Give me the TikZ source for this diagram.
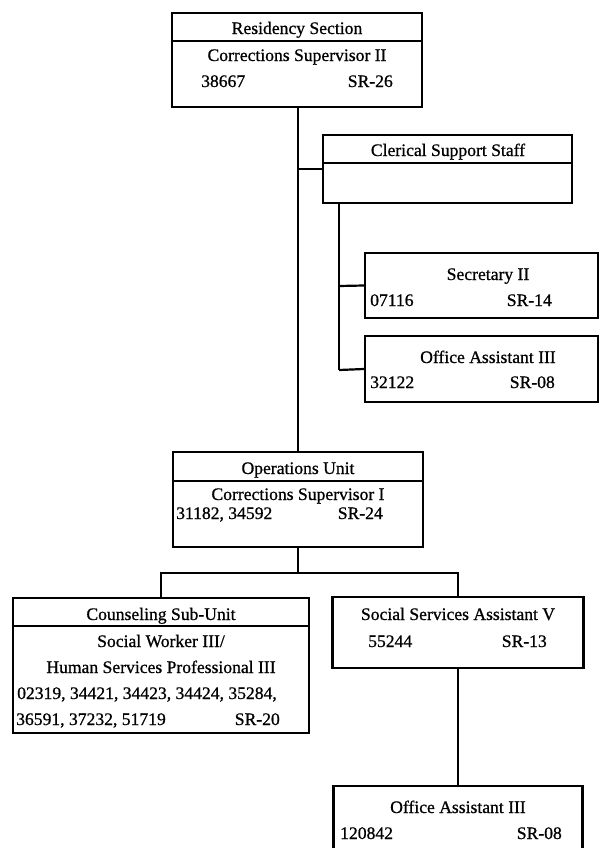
\documentclass[tikz,border=0pt]{standalone}
\usepackage{fontspec}
\setmainfont{Liberation Serif}[BoldFont={Liberation Serif}, BoldFeatures={FakeBold=0.8}]
\tikzset{
  orgbox/.style={draw, line width=2.2bp, inner sep=0pt, fill=white},
  rule/.style={line width=2bp},
  conn/.style={line width=2.2bp},
  lbl/.style={font=\fontsize{17.6bp}{20bp}\selectfont\bfseries, inner sep=0pt, anchor=base},
}
\begin{document}
\begin{tikzpicture}[x=1bp,y=-1bp]
\useasboundingbox (0,0) rectangle (600,848);
\fill[white] (0,0) rectangle (600,848);
\clip (0,0) rectangle (600,848);

% ---- boxes
\node[orgbox, minimum width=250bp, minimum height=94bp] (res) at (297,60) {};
\node[orgbox, minimum width=249bp, minimum height=68bp] (cler) at (447.5,169) {};
\node[orgbox, minimum width=233bp, minimum height=65bp] (sec) at (481.5,285.5) {};
\node[orgbox, minimum width=233bp, minimum height=66bp] (oa) at (481.5,369) {};
\node[orgbox, minimum width=250bp, minimum height=95bp] (ops) at (298,499.5) {};
\node[orgbox, minimum width=296bp, minimum height=135bp] (cns) at (161,665.5) {};
\node[orgbox, minimum width=251bp, minimum height=71bp] (ssa) at (458,632.5) {};
\node[orgbox, minimum width=249bp, minimum height=80bp] (oa2) at (458,826) {};

% ---- header rules
\draw[rule] (res.west |- 0,41) -- (res.east |- 0,41);
\draw[rule] (cler.west |- 0,163) -- (cler.east |- 0,163);
\draw[rule] (ops.west |- 0,481) -- (ops.east |- 0,481);
\draw[rule] (cns.west |- 0,626) -- (cns.east |- 0,626);

% ---- connectors
\coordinate (jA) at (298,169);
\coordinate (jB) at (339,203);
\coordinate (jC) at (339,286);
\coordinate (jD) at (339,370);
\coordinate (jE) at (298,573);
\coordinate (jL) at (161,573);
\coordinate (jR) at (458,573);
\draw[conn] (res.south -| 298,0) -- (ops.north -| 298,0);
\draw[conn] (jA) -- (cler.west);
\draw[conn] (jB) -- (jD);
\draw[conn] (jC) -- (sec.west);
\draw[conn] (jD) -- (oa.west);
\draw[conn] (ops.south -| 298,0) -- (jE);
\draw[conn] (cns.north) -- (jL) -- (jR) -- (ssa.north);
\draw[conn] (ssa.south) -- (oa2.north);

% ---- texts: Residency Section
\node[lbl] (t1) at (297,34) {Residency Section};
\node[lbl] (t2) at (297,61) {Corrections Supervisor II};
\node[lbl, anchor=base west] (t3) at (201,87) {38667};
\node[lbl, anchor=base east] (t4) at (393,87) {SR-26};

% Clerical
\node[lbl] (t5) at (448,156) {Clerical Support Staff};

% Secretary II
\node[lbl] (t6) at (488,280) {Secretary II};
\node[lbl, anchor=base west] (t7) at (370,306) {07116};
\node[lbl, anchor=base east] (t8) at (552,306) {SR-14};

% Office Assistant III (upper)
\node[lbl] (t9) at (488,363) {Office Assistant III};
\node[lbl, anchor=base west] (t10) at (370,388) {32122};
\node[lbl, anchor=base east] (t11) at (555,388) {SR-08};

% Operations Unit
\node[lbl] (t12) at (298,474) {Operations Unit};
\node[lbl] (t13) at (298,500) {Corrections Supervisor I};
\node[lbl, anchor=base west] (t14) at (176,519) {31182, 34592};
\node[lbl, anchor=base east] (t15) at (383,519) {SR-24};

% Counseling Sub-Unit
\node[lbl] (t16) at (161,620) {Counseling Sub-Unit};
\node[lbl] (t17) at (161,647) {Social Worker III/};
\node[lbl] (t18) at (161,673) {Human Services Professional III};
\node[lbl, anchor=base west] (t19) at (17,699) {02319, 34421, 34423, 34424, 35284,};
\node[lbl, anchor=base west] (t20) at (16,725) {36591, 37232, 51719};
\node[lbl, anchor=base east] (t21) at (280,725) {SR-20};

% Social Services Assistant V
\node[lbl] (t22) at (458,620) {Social Services Assistant V};
\node[lbl, anchor=base west] (t23) at (368,647) {55244};
\node[lbl, anchor=base east] (t24) at (547,647) {SR-13};

% Office Assistant III (lower)
\node[lbl] (t25) at (458,813) {Office Assistant III};
\node[lbl, anchor=base west] (t26) at (340,839) {120842};
\node[lbl, anchor=base east] (t27) at (562,839) {SR-08};
\end{tikzpicture}
\end{document}
